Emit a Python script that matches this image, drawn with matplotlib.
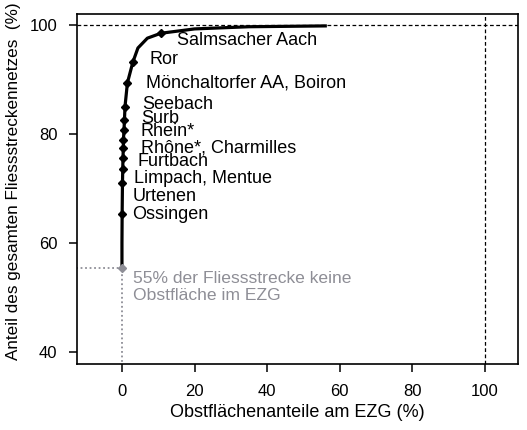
import numpy as np
import matplotlib.pyplot as plt

plt.rcParams['font.family'] = ['Liberation Sans', 'DejaVu Sans']

# Summenkurve: Obstflächenanteil im EZG vs. Anteil am Fliessstreckennetz
kurve_x = [0.0, 0.0, 0.05, 0.14, 0.22, 0.28, 0.36, 0.41, 0.55, 0.69, 0.83,
           1.5, 3.0, 4.4, 7.0, 10.7, 20.0, 35.0, 56.0]
kurve_y = [55.5, 60.0, 65.3, 71.0, 73.6, 75.6, 77.4, 78.9, 80.7, 82.6, 85.0,
           89.4, 93.2, 95.8, 97.6, 98.5, 99.3, 99.7, 99.85]

# Einzugsgebiete mit Markierung
gebiet_x = [10.7, 3.0, 1.5, 0.83, 0.69, 0.55, 0.41, 0.36, 0.28, 0.22, 0.14, 0.05]
gebiet_y = [98.5, 93.2, 89.4, 85.0, 82.6, 80.7, 78.9, 77.4, 75.6, 73.6, 71.0, 65.3]
gebiet_namen = ["Salmsacher Aach", "Ror", "Mönchaltorfer AA, Boiron", "Seebach",
                "Surb", "Rhein*", "Rhône*, Charmilles", "Furtbach",
                "Limpach, Mentue", "Urtenen", "Ossingen"]

# Anteil ohne Obstfläche
null_x = 0.0
null_y = 55.5

fig = plt.figure(figsize=(5.27, 4.30), dpi=100)
ax = fig.add_axes([0.146, 0.153, 0.837, 0.814])

grau = '#8e8e96'
ax.axhline(100, color='black', lw=0.9, ls=(0, (3, 2)), zorder=1)
ax.axvline(100, color='black', lw=0.9, ls=(0, (3, 2)), zorder=1)
ax.plot([-20, null_x], [null_y, null_y], color=grau, lw=1.3, ls=(0, (1, 1.5)), zorder=1)
ax.plot([null_x, null_x], [30, null_y], color=grau, lw=1.3, ls=(0, (1, 1.5)), zorder=1)

ax.plot(kurve_x, kurve_y, color='black', lw=2.3, zorder=2)
ax.plot(gebiet_x, gebiet_y, ls='none', marker='D', ms=4.5, color='black', zorder=3)
ax.plot([null_x], [null_y], ls='none', marker='D', ms=4.5, color=grau, zorder=3)

# Beschriftungen der Einzugsgebiete
label_pos = [(15.2, 97.2), (7.7, 93.6), (6.6, 89.4), (5.5, 85.5), (5.2, 82.9),
             (5.2, 80.4), (5.2, 77.4), (4.4, 74.9), (3.3, 71.9), (3.0, 68.6),
             (2.75, 65.3)]
for name, (lx, ly) in zip(gebiet_namen, label_pos):
    ax.text(lx, ly, name, fontsize=13, va='center', ha='left', color='black')

ax.text(3.0, 54.9, "55% der Fliessstrecke keine\nObstfläche im EZG", fontsize=12.6,
        va='top', ha='left', color=grau, linespacing=1.2)

ax.set_xlim(-12.4, 109.1)
ax.set_ylim(37.8, 102.0)
ax.set_xticks([0, 20, 40, 60, 80, 100])
ax.set_yticks([40, 60, 80, 100])
ax.tick_params(direction='out', length=6, width=1.1, labelsize=12, pad=8)
for s in ax.spines.values():
    s.set_linewidth(1.2)

ax.set_xlabel("Obstflächenanteile am EZG (%)", fontsize=13, labelpad=4)
ax.set_ylabel("Anteil des gesamten Fliessstreckennetzes  (%)", fontsize=12.3)
ax.yaxis.set_label_coords(-0.127, 0.522)

fig.savefig('out.png', dpi=100)
